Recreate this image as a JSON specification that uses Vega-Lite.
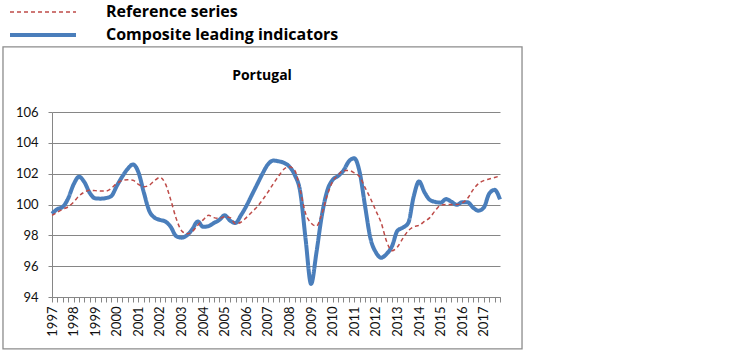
{
  "$schema": "https://vega.github.io/schema/vega-lite/v6.json",
  "autosize": "none",
  "width": 448,
  "height": 185,
  "padding": {"left": 52, "top": 112, "right": 250, "bottom": 56},
  "background": "white",
  "title": {"text": "Portugal", "font": "Open Sans", "fontSize": 14, "fontWeight": "bold", "color": "#000000", "anchor": "middle", "dx": -14, "offset": 22, "dy": 104},
  "config": {
    "view": {"stroke": null},
    "axis": {"labelFont": "Lato", "labelFontSize": 13, "labelColor": "#111111", "domainColor": "#868686", "tickColor": "#868686", "gridColor": "#868686", "gridWidth": 1, "domainWidth": 1, "tickWidth": 1}
  },
  "data": {"values": [
    {"t":1997,"Composite leading indicators":99.4,"Reference series":99.3},
    {"t":1997.25,"Composite leading indicators":99.7,"Reference series":99.5},
    {"t":1997.5,"Composite leading indicators":99.85,"Reference series":99.7},
    {"t":1997.75,"Composite leading indicators":100.4,"Reference series":99.85},
    {"t":1998,"Composite leading indicators":101.3,"Reference series":100.15},
    {"t":1998.25,"Composite leading indicators":101.8,"Reference series":100.55},
    {"t":1998.5,"Composite leading indicators":101.45,"Reference series":100.8},
    {"t":1998.75,"Composite leading indicators":100.75,"Reference series":100.92},
    {"t":1999,"Composite leading indicators":100.4,"Reference series":100.9},
    {"t":1999.25,"Composite leading indicators":100.38,"Reference series":100.87},
    {"t":1999.5,"Composite leading indicators":100.42,"Reference series":100.87},
    {"t":1999.75,"Composite leading indicators":100.55,"Reference series":101.05},
    {"t":2000,"Composite leading indicators":101.2,"Reference series":101.37},
    {"t":2000.25,"Composite leading indicators":101.8,"Reference series":101.55},
    {"t":2000.5,"Composite leading indicators":102.3,"Reference series":101.6},
    {"t":2000.75,"Composite leading indicators":102.6,"Reference series":101.58},
    {"t":2001,"Composite leading indicators":102.1,"Reference series":101.3},
    {"t":2001.25,"Composite leading indicators":100.8,"Reference series":101.15},
    {"t":2001.5,"Composite leading indicators":99.6,"Reference series":101.25},
    {"t":2001.75,"Composite leading indicators":99.15,"Reference series":101.55},
    {"t":2002,"Composite leading indicators":99.0,"Reference series":101.76},
    {"t":2002.25,"Composite leading indicators":98.9,"Reference series":101.35},
    {"t":2002.5,"Composite leading indicators":98.55,"Reference series":100.3},
    {"t":2002.75,"Composite leading indicators":97.95,"Reference series":99.1},
    {"t":2003,"Composite leading indicators":97.85,"Reference series":98.3},
    {"t":2003.25,"Composite leading indicators":98.0,"Reference series":98.1},
    {"t":2003.5,"Composite leading indicators":98.4,"Reference series":98.25},
    {"t":2003.75,"Composite leading indicators":98.9,"Reference series":98.65},
    {"t":2004,"Composite leading indicators":98.55,"Reference series":99.0},
    {"t":2004.25,"Composite leading indicators":98.6,"Reference series":99.3},
    {"t":2004.5,"Composite leading indicators":98.8,"Reference series":99.15},
    {"t":2004.75,"Composite leading indicators":99.0,"Reference series":99.1},
    {"t":2005,"Composite leading indicators":99.3,"Reference series":99.2},
    {"t":2005.25,"Composite leading indicators":98.95,"Reference series":99.15},
    {"t":2005.5,"Composite leading indicators":98.8,"Reference series":98.75},
    {"t":2005.75,"Composite leading indicators":99.3,"Reference series":98.85},
    {"t":2006,"Composite leading indicators":99.9,"Reference series":99.15},
    {"t":2006.25,"Composite leading indicators":100.6,"Reference series":99.5},
    {"t":2006.5,"Composite leading indicators":101.3,"Reference series":99.85},
    {"t":2006.75,"Composite leading indicators":102.0,"Reference series":100.3},
    {"t":2007,"Composite leading indicators":102.6,"Reference series":100.8},
    {"t":2007.25,"Composite leading indicators":102.85,"Reference series":101.35},
    {"t":2007.5,"Composite leading indicators":102.8,"Reference series":101.85},
    {"t":2007.75,"Composite leading indicators":102.7,"Reference series":102.3},
    {"t":2008,"Composite leading indicators":102.45,"Reference series":102.45},
    {"t":2008.25,"Composite leading indicators":101.9,"Reference series":102.2},
    {"t":2008.5,"Composite leading indicators":100.8,"Reference series":100.9},
    {"t":2008.75,"Composite leading indicators":97.7,"Reference series":99.4},
    {"t":2009,"Composite leading indicators":94.85,"Reference series":98.8},
    {"t":2009.25,"Composite leading indicators":96.9,"Reference series":98.6},
    {"t":2009.5,"Composite leading indicators":99.3,"Reference series":99.4},
    {"t":2009.75,"Composite leading indicators":100.9,"Reference series":100.6},
    {"t":2010,"Composite leading indicators":101.6,"Reference series":101.5},
    {"t":2010.25,"Composite leading indicators":101.85,"Reference series":101.9},
    {"t":2010.5,"Composite leading indicators":102.2,"Reference series":102.2},
    {"t":2010.75,"Composite leading indicators":102.8,"Reference series":102.2},
    {"t":2011,"Composite leading indicators":103.0,"Reference series":102.05},
    {"t":2011.25,"Composite leading indicators":102.1,"Reference series":101.8},
    {"t":2011.5,"Composite leading indicators":99.9,"Reference series":101.1},
    {"t":2011.75,"Composite leading indicators":97.8,"Reference series":100.4},
    {"t":2012,"Composite leading indicators":96.9,"Reference series":99.6},
    {"t":2012.25,"Composite leading indicators":96.55,"Reference series":98.8},
    {"t":2012.5,"Composite leading indicators":96.8,"Reference series":97.6},
    {"t":2012.75,"Composite leading indicators":97.3,"Reference series":97.0},
    {"t":2013,"Composite leading indicators":98.3,"Reference series":97.25},
    {"t":2013.25,"Composite leading indicators":98.5,"Reference series":97.8},
    {"t":2013.5,"Composite leading indicators":98.8,"Reference series":98.3},
    {"t":2013.75,"Composite leading indicators":100.5,"Reference series":98.55},
    {"t":2014,"Composite leading indicators":101.5,"Reference series":98.65},
    {"t":2014.25,"Composite leading indicators":100.8,"Reference series":98.9},
    {"t":2014.5,"Composite leading indicators":100.3,"Reference series":99.15},
    {"t":2014.75,"Composite leading indicators":100.17,"Reference series":99.6},
    {"t":2015,"Composite leading indicators":100.12,"Reference series":99.95},
    {"t":2015.25,"Composite leading indicators":100.35,"Reference series":100.0},
    {"t":2015.5,"Composite leading indicators":100.18,"Reference series":100.0},
    {"t":2015.75,"Composite leading indicators":99.98,"Reference series":100.0},
    {"t":2016,"Composite leading indicators":100.15,"Reference series":100.1},
    {"t":2016.25,"Composite leading indicators":100.15,"Reference series":100.4},
    {"t":2016.5,"Composite leading indicators":99.8,"Reference series":100.95},
    {"t":2016.75,"Composite leading indicators":99.6,"Reference series":101.35},
    {"t":2017,"Composite leading indicators":99.8,"Reference series":101.55},
    {"t":2017.25,"Composite leading indicators":100.7,"Reference series":101.65},
    {"t":2017.5,"Composite leading indicators":100.95,"Reference series":101.75},
    {"t":2017.75,"Composite leading indicators":100.33,"Reference series":101.85}
  ]},
  "layer": [
    {
      "data": {"values": [{}]},
      "mark": {"type": "rect", "filled": false, "stroke": "#8c8c8c", "strokeWidth": 1.3, "clip": false},
      "encoding": {
        "x": {"datum": 1994.73, "type": "quantitative"},
        "x2": {"datum": 2018.77},
        "y": {"datum": 110.22, "type": "quantitative"},
        "y2": {"datum": 90.63}
      }
    },
    {
      "transform": [{"fold": ["Composite leading indicators", "Reference series"], "as": ["series", "value"]}],
      "mark": {"type": "line", "interpolate": "monotone", "strokeCap": "butt"},
      "encoding": {
        "x": {"field": "t", "type": "quantitative",
          "scale": {"domain": [1997, 2017.75], "nice": false, "zero": false},
          "axis": {"title": null, "grid": false, "tickSize": 5, "labelAngle": -90, "labelPadding": 4, "labelOverlap": false, "labelFlush": false, "tickCount": 200,
            "values": [1997,1997.25,1997.5,1997.75,1998,1998.25,1998.5,1998.75,1999,1999.25,1999.5,1999.75,2000,2000.25,2000.5,2000.75,2001,2001.25,2001.5,2001.75,2002,2002.25,2002.5,2002.75,2003,2003.25,2003.5,2003.75,2004,2004.25,2004.5,2004.75,2005,2005.25,2005.5,2005.75,2006,2006.25,2006.5,2006.75,2007,2007.25,2007.5,2007.75,2008,2008.25,2008.5,2008.75,2009,2009.25,2009.5,2009.75,2010,2010.25,2010.5,2010.75,2011,2011.25,2011.5,2011.75,2012,2012.25,2012.5,2012.75,2013,2013.25,2013.5,2013.75,2014,2014.25,2014.5,2014.75,2015,2015.25,2015.5,2015.75,2016,2016.25,2016.5,2016.75,2017,2017.25,2017.5,2017.75],
            "labelExpr": "datum.value % 1 === 0 ? format(datum.value, 'd') : ''"}},
        "y": {"field": "value", "type": "quantitative",
          "scale": {"domain": [94, 106], "nice": false, "zero": false},
          "axis": {"title": null, "grid": true, "tickSize": 4, "labelPadding": 10, "values": [94, 96, 98, 100, 102, 104, 106], "tickCount": 20, "labelOverlap": false, "format": "d"}},
        "color": {"field": "series", "type": "nominal",
          "scale": {"domain": ["Reference series", "Composite leading indicators"], "range": ["#BE4B48", "#4A7EBB"]},
          "legend": {"title": null, "orient": "none", "legendX": -44, "legendY": -111, "padding": 0, "symbolType": "stroke", "symbolSize": 4356, "clipHeight": 22, "rowPadding": 1, "labelFont": "Open Sans", "labelFontSize": 16, "labelFontWeight": "bold", "labelColor": "#000000", "labelOffset": 28, "labelLimit": 400}},
        "strokeDash": {"field": "series", "type": "nominal",
          "scale": {"domain": ["Reference series", "Composite leading indicators"], "range": [[4, 3], [1, 0]]}},
        "strokeWidth": {"field": "series", "type": "nominal",
          "scale": {"domain": ["Reference series", "Composite leading indicators"], "range": [1.5, 4]}}
      }
    }
  ]
}
